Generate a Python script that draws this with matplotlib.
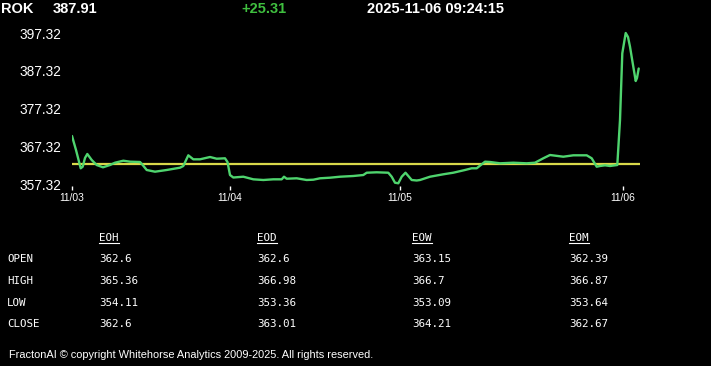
import matplotlib
matplotlib.use("Agg")
import matplotlib.pyplot as plt
from matplotlib.lines import Line2D

# ---- data ----
symbol = "ROK"
last_price = "387.91"
change = "+25.31"
timestamp = "2025-11-06 09:24:15"
prev_close = 362.6

# time index (bars) and price
t = [0, 4, 8.7, 10.7, 13, 15.3, 19.7, 24.7, 31, 38, 43, 51.3, 58, 68, 70.7, 74.7,
     83, 94.7, 108, 111.3, 116.3, 121.3, 128, 138, 144.7, 153, 155.5, 158, 161.3,
     171.3, 181.3, 191.3, 201.3, 209.7, 212, 214.7, 224.7, 234.7, 241.3, 248, 258,
     268, 281.3, 291.3, 294.7, 304.7, 316.3, 319.7, 323, 326.3, 329.7, 333.5, 339.7,
     344.7, 348, 358, 371.3, 381.3, 393, 399.7, 404.7, 413, 418, 428, 441.3, 454.7,
     463, 471.3, 478, 491.3, 501.3, 514.7, 519.7, 524.7, 528, 533, 538, 543, 545.3,
     548, 550.3, 553.7, 556, 558, 561.3, 563.7, 565, 566.7]
price = [370.04, 366.33, 361.48, 361.90, 364.21, 365.27, 363.68, 362.35, 361.74,
         362.35, 362.96, 363.49, 363.23, 363.15, 362.35, 361.03, 360.58, 361.03,
         361.64, 362.09, 364.92, 363.86, 363.86, 364.47, 364.02, 364.13, 363.15,
         359.70, 359.04, 359.25, 358.56, 358.38, 358.56, 358.56, 359.25, 358.72,
         358.83, 358.38, 358.46, 358.83, 358.99, 359.25, 359.44, 359.70, 360.31,
         360.42, 360.31, 359.25, 357.66, 357.51, 359.25, 360.31, 358.38, 358.25,
         358.38, 359.25, 359.89, 360.31, 361.03, 361.48, 361.48, 363.23, 363.15,
         362.80, 362.96, 362.80, 362.96, 364.13, 365.00, 364.55, 364.92, 364.92,
         364.13, 361.90, 362.09, 362.27, 362.09, 362.27, 362.35, 374.27, 391.94,
         397.32, 396.26, 393.69, 388.39, 384.60, 385.40, 387.91]

x_tick_pos = [0, 158, 328, 551]
x_tick_labels = ["11/03", "11/04", "11/05", "11/06"]
y_ticks = [357.32, 367.32, 377.32, 387.32, 397.32]

row_labels = ["OPEN", "HIGH", "LOW", "CLOSE"]
col_labels = ["EOH", "EOD", "EOW", "EOM"]
table_vals = [
    ["362.6", "362.6", "363.15", "362.39"],
    ["365.36", "366.98", "366.7", "366.87"],
    ["354.11", "353.36", "353.09", "353.64"],
    ["362.6", "363.01", "364.21", "362.67"],
]
footer = "FractonAI \u00a9 copyright Whitehorse Analytics 2009-2025. All rights reserved."

# ---- figure ----
W, H = 711, 366
fig = plt.figure(figsize=(W / 100, H / 100), dpi=100, facecolor="black")

def fx(px):
    return px / W

def fy(py):
    return 1 - py / H

ax_left, ax_right, ax_top, ax_bot = 72, 640, 28, 186
ax = fig.add_axes([fx(ax_left), fy(ax_bot), (ax_right - ax_left) / W, (ax_bot - ax_top) / H])
ax.set_facecolor("black")
for s in ax.spines.values():
    s.set_visible(False)

ax.axhline(prev_close, color="#d8d84a", lw=1.6, zorder=2)
ax.plot(t, price, color="#4fd46e", lw=1.7, solid_joinstyle="round",
        solid_capstyle="round", zorder=3)

ax.set_xlim(0, 568)
ax.set_ylim(357.32 - 2 / 3.775, 397.32 + 5 / 3.775)
ax.set_yticks(y_ticks)
ax.set_yticklabels([f"{v:.2f}" for v in y_ticks])
ax.set_xticks(x_tick_pos)
ax.set_xticklabels(x_tick_labels)
ax.tick_params(axis="y", length=0, pad=7.5, labelcolor="white", labelsize=9.8)
ax.tick_params(axis="x", length=3, width=1, color="white", direction="out",
               pad=2, labelcolor="white", labelsize=7.4)
for lab in ax.get_yticklabels() + ax.get_xticklabels():
    lab.set_fontfamily("Liberation Sans")

# ---- header ----
hkw = dict(fontfamily="Liberation Sans", fontweight="bold", fontsize=10.5,
           va="center", ha="left")
fig.text(fx(1), fy(9), symbol, color="white", **hkw)
fig.text(fx(53), fy(9), last_price, color="white", **hkw)
fig.text(fx(241), fy(9), change, color="#3fbf3f", **hkw)
fig.text(fx(367), fy(9), timestamp, color="white", **hkw)

# ---- table ----
mono = dict(fontfamily="DejaVu Sans Mono", fontsize=7.8, color="white",
            va="center", ha="left")
col_x = [99, 257, 412, 569]
row_y = [259, 281, 303, 324]
header_y = 238
hdr_texts = []
for cx, cl in zip(col_x, col_labels):
    hdr_texts.append(fig.text(fx(cx), fy(header_y), cl, **mono))
for ry, rl, vals in zip(row_y, row_labels, table_vals):
    fig.text(fx(7), fy(ry), rl, **mono)
    for cx, v in zip(col_x, vals):
        fig.text(fx(cx), fy(ry), v, **mono)

fig.canvas.draw()
renderer = fig.canvas.get_renderer()
for tx in hdr_texts:
    bb = tx.get_window_extent(renderer)
    yline = bb.y0 - 0.5
    fig.add_artist(Line2D([bb.x0 / W, bb.x1 / W], [yline / H, yline / H],
                          color="white", lw=0.8, transform=fig.transFigure))

# ---- footer ----
fig.text(fx(9), fy(355), footer, color="white", fontfamily="Liberation Sans",
         fontsize=7.9, va="center", ha="left")

fig.savefig("out.png", dpi=100, facecolor="black")
